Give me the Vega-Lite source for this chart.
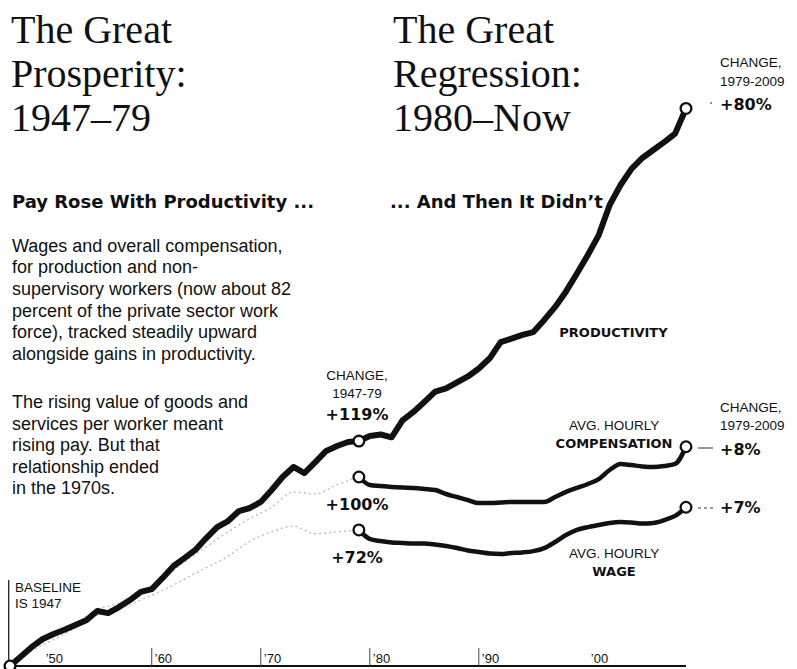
{
  "$schema": "https://vega.github.io/schema/vega-lite/v6.json",
  "width": 797,
  "height": 669,
  "padding": 0,
  "autosize": {"type": "none"},
  "background": "white",
  "config": {"view": {"stroke": null}},
  "datasets": {
    "lines": [
      {"year":1947,"value":0,"series":"Productivity","era":"all"},
      {"year":1948,"value":5.0,"series":"Productivity","era":"all"},
      {"year":1949,"value":10.1,"series":"Productivity","era":"all"},
      {"year":1950,"value":14.3,"series":"Productivity","era":"all"},
      {"year":1951,"value":16.9,"series":"Productivity","era":"all"},
      {"year":1952,"value":19.2,"series":"Productivity","era":"all"},
      {"year":1953,"value":21.7,"series":"Productivity","era":"all"},
      {"year":1954,"value":24.2,"series":"Productivity","era":"all"},
      {"year":1955,"value":29.1,"series":"Productivity","era":"all"},
      {"year":1956,"value":28.0,"series":"Productivity","era":"all"},
      {"year":1957,"value":31.2,"series":"Productivity","era":"all"},
      {"year":1958,"value":34.9,"series":"Productivity","era":"all"},
      {"year":1959,"value":39.2,"series":"Productivity","era":"all"},
      {"year":1960,"value":40.7,"series":"Productivity","era":"all"},
      {"year":1961,"value":46.6,"series":"Productivity","era":"all"},
      {"year":1962,"value":52.9,"series":"Productivity","era":"all"},
      {"year":1963,"value":57.1,"series":"Productivity","era":"all"},
      {"year":1964,"value":61.4,"series":"Productivity","era":"all"},
      {"year":1965,"value":67.7,"series":"Productivity","era":"all"},
      {"year":1966,"value":73.5,"series":"Productivity","era":"all"},
      {"year":1967,"value":76.7,"series":"Productivity","era":"all"},
      {"year":1968,"value":82.0,"series":"Productivity","era":"all"},
      {"year":1969,"value":83.6,"series":"Productivity","era":"all"},
      {"year":1970,"value":86.8,"series":"Productivity","era":"all"},
      {"year":1971,"value":93.1,"series":"Productivity","era":"all"},
      {"year":1972,"value":100.0,"series":"Productivity","era":"all"},
      {"year":1973,"value":105.3,"series":"Productivity","era":"all"},
      {"year":1974,"value":102.1,"series":"Productivity","era":"all"},
      {"year":1975,"value":107.9,"series":"Productivity","era":"all"},
      {"year":1976,"value":113.8,"series":"Productivity","era":"all"},
      {"year":1977,"value":116.4,"series":"Productivity","era":"all"},
      {"year":1978,"value":118.5,"series":"Productivity","era":"all"},
      {"year":1979,"value":119,"series":"Productivity","era":"all"},
      {"year":1980,"value":121.7,"series":"Productivity","era":"all"},
      {"year":1981,"value":122.5,"series":"Productivity","era":"all"},
      {"year":1982,"value":121.0,"series":"Productivity","era":"all"},
      {"year":1983,"value":129.9,"series":"Productivity","era":"all"},
      {"year":1984,"value":134.4,"series":"Productivity","era":"all"},
      {"year":1985,"value":139.7,"series":"Productivity","era":"all"},
      {"year":1986,"value":145.2,"series":"Productivity","era":"all"},
      {"year":1987,"value":146.9,"series":"Productivity","era":"all"},
      {"year":1988,"value":150.1,"series":"Productivity","era":"all"},
      {"year":1989,"value":153.2,"series":"Productivity","era":"all"},
      {"year":1990,"value":157.4,"series":"Productivity","era":"all"},
      {"year":1991,"value":162.8,"series":"Productivity","era":"all"},
      {"year":1992,"value":171.4,"series":"Productivity","era":"all"},
      {"year":1993,"value":173.2,"series":"Productivity","era":"all"},
      {"year":1994,"value":175.2,"series":"Productivity","era":"all"},
      {"year":1995,"value":176.7,"series":"Productivity","era":"all"},
      {"year":1996,"value":183.1,"series":"Productivity","era":"all"},
      {"year":1997,"value":190.0,"series":"Productivity","era":"all"},
      {"year":1998,"value":198.2,"series":"Productivity","era":"all"},
      {"year":1999,"value":207.7,"series":"Productivity","era":"all"},
      {"year":2000,"value":217.5,"series":"Productivity","era":"all"},
      {"year":2001,"value":228.0,"series":"Productivity","era":"all"},
      {"year":2002,"value":243.9,"series":"Productivity","era":"all"},
      {"year":2003,"value":254.5,"series":"Productivity","era":"all"},
      {"year":2004,"value":263.0,"series":"Productivity","era":"all"},
      {"year":2005,"value":268.8,"series":"Productivity","era":"all"},
      {"year":2006,"value":273.0,"series":"Productivity","era":"all"},
      {"year":2007,"value":277.2,"series":"Productivity","era":"all"},
      {"year":2008,"value":281.7,"series":"Productivity","era":"all"},
      {"year":2009,"value":295,"series":"Productivity","era":"all"},

      {"year":1947,"value":0,"series":"Compensation","era":"pre"},
      {"year":1949,"value":9,"series":"Compensation","era":"pre"},
      {"year":1951,"value":16,"series":"Compensation","era":"pre"},
      {"year":1953,"value":22,"series":"Compensation","era":"pre"},
      {"year":1955,"value":30,"series":"Compensation","era":"pre"},
      {"year":1957,"value":33,"series":"Compensation","era":"pre"},
      {"year":1959,"value":39,"series":"Compensation","era":"pre"},
      {"year":1961,"value":46,"series":"Compensation","era":"pre"},
      {"year":1963,"value":55,"series":"Compensation","era":"pre"},
      {"year":1965,"value":63,"series":"Compensation","era":"pre"},
      {"year":1967,"value":71,"series":"Compensation","era":"pre"},
      {"year":1969,"value":78,"series":"Compensation","era":"pre"},
      {"year":1971,"value":84,"series":"Compensation","era":"pre"},
      {"year":1973,"value":92,"series":"Compensation","era":"pre"},
      {"year":1975,"value":91,"series":"Compensation","era":"pre"},
      {"year":1977,"value":96,"series":"Compensation","era":"pre"},
      {"year":1979,"value":100,"series":"Compensation","era":"pre"},

      {"year":1947,"value":0,"series":"Wage","era":"pre"},
      {"year":1949,"value":8,"series":"Wage","era":"pre"},
      {"year":1951,"value":14,"series":"Wage","era":"pre"},
      {"year":1953,"value":20,"series":"Wage","era":"pre"},
      {"year":1955,"value":27,"series":"Wage","era":"pre"},
      {"year":1957,"value":30,"series":"Wage","era":"pre"},
      {"year":1959,"value":35,"series":"Wage","era":"pre"},
      {"year":1961,"value":40,"series":"Wage","era":"pre"},
      {"year":1963,"value":46,"series":"Wage","era":"pre"},
      {"year":1965,"value":52,"series":"Wage","era":"pre"},
      {"year":1967,"value":58,"series":"Wage","era":"pre"},
      {"year":1969,"value":66,"series":"Wage","era":"pre"},
      {"year":1971,"value":71,"series":"Wage","era":"pre"},
      {"year":1973,"value":74,"series":"Wage","era":"pre"},
      {"year":1975,"value":70,"series":"Wage","era":"pre"},
      {"year":1977,"value":71,"series":"Wage","era":"pre"},
      {"year":1979,"value":72,"series":"Wage","era":"pre"},

      {"year":1979,"value":100,"series":"Compensation","era":"post"},
      {"year":1980,"value":95.8,"series":"Compensation","era":"post"},
      {"year":1981,"value":95.2,"series":"Compensation","era":"post"},
      {"year":1982,"value":94.7,"series":"Compensation","era":"post"},
      {"year":1983,"value":94.4,"series":"Compensation","era":"post"},
      {"year":1984,"value":94.2,"series":"Compensation","era":"post"},
      {"year":1985,"value":93.7,"series":"Compensation","era":"post"},
      {"year":1986,"value":93.1,"series":"Compensation","era":"post"},
      {"year":1987,"value":91.0,"series":"Compensation","era":"post"},
      {"year":1988,"value":89.4,"series":"Compensation","era":"post"},
      {"year":1989,"value":87.8,"series":"Compensation","era":"post"},
      {"year":1990,"value":86.2,"series":"Compensation","era":"post"},
      {"year":1991,"value":86.2,"series":"Compensation","era":"post"},
      {"year":1992,"value":86.5,"series":"Compensation","era":"post"},
      {"year":1993,"value":86.8,"series":"Compensation","era":"post"},
      {"year":1994,"value":86.8,"series":"Compensation","era":"post"},
      {"year":1995,"value":86.8,"series":"Compensation","era":"post"},
      {"year":1996,"value":86.8,"series":"Compensation","era":"post"},
      {"year":1997,"value":89.4,"series":"Compensation","era":"post"},
      {"year":1998,"value":92.1,"series":"Compensation","era":"post"},
      {"year":1999,"value":94.2,"series":"Compensation","era":"post"},
      {"year":2000,"value":96.3,"series":"Compensation","era":"post"},
      {"year":2001,"value":98.9,"series":"Compensation","era":"post"},
      {"year":2002,"value":103.7,"series":"Compensation","era":"post"},
      {"year":2003,"value":106.9,"series":"Compensation","era":"post"},
      {"year":2004,"value":106.3,"series":"Compensation","era":"post"},
      {"year":2005,"value":105.6,"series":"Compensation","era":"post"},
      {"year":2006,"value":105.3,"series":"Compensation","era":"post"},
      {"year":2007,"value":105.8,"series":"Compensation","era":"post"},
      {"year":2008,"value":106.9,"series":"Compensation","era":"post"},
      {"year":2009,"value":116,"series":"Compensation","era":"post"},

      {"year":1979,"value":72,"series":"Wage","era":"post"},
      {"year":1980,"value":67.2,"series":"Wage","era":"post"},
      {"year":1981,"value":66.1,"series":"Wage","era":"post"},
      {"year":1982,"value":65.3,"series":"Wage","era":"post"},
      {"year":1983,"value":65.1,"series":"Wage","era":"post"},
      {"year":1984,"value":64.8,"series":"Wage","era":"post"},
      {"year":1985,"value":64.8,"series":"Wage","era":"post"},
      {"year":1986,"value":64.3,"series":"Wage","era":"post"},
      {"year":1987,"value":63.5,"series":"Wage","era":"post"},
      {"year":1988,"value":62.4,"series":"Wage","era":"post"},
      {"year":1989,"value":61.1,"series":"Wage","era":"post"},
      {"year":1990,"value":60.3,"series":"Wage","era":"post"},
      {"year":1991,"value":59.5,"series":"Wage","era":"post"},
      {"year":1992,"value":59.3,"series":"Wage","era":"post"},
      {"year":1993,"value":59.8,"series":"Wage","era":"post"},
      {"year":1994,"value":60.1,"series":"Wage","era":"post"},
      {"year":1995,"value":60.8,"series":"Wage","era":"post"},
      {"year":1996,"value":62.4,"series":"Wage","era":"post"},
      {"year":1997,"value":65.6,"series":"Wage","era":"post"},
      {"year":1998,"value":69.3,"series":"Wage","era":"post"},
      {"year":1999,"value":72.0,"series":"Wage","era":"post"},
      {"year":2000,"value":73.5,"series":"Wage","era":"post"},
      {"year":2001,"value":74.6,"series":"Wage","era":"post"},
      {"year":2002,"value":75.7,"series":"Wage","era":"post"},
      {"year":2003,"value":76.2,"series":"Wage","era":"post"},
      {"year":2004,"value":75.9,"series":"Wage","era":"post"},
      {"year":2005,"value":75.4,"series":"Wage","era":"post"},
      {"year":2006,"value":75.7,"series":"Wage","era":"post"},
      {"year":2007,"value":77.2,"series":"Wage","era":"post"},
      {"year":2008,"value":79.4,"series":"Wage","era":"post"},
      {"year":2009,"value":84,"series":"Wage","era":"post"}
    ],
    "circles": [
      {"year":1947,"value":0},
      {"year":1979,"value":119},
      {"year":1979,"value":100},
      {"year":1979,"value":72},
      {"year":2009,"value":295},
      {"year":2009,"value":116},
      {"year":2009,"value":84}
    ],
    "headline": [
      {"year":1947.09,"value":329.6,"text":"The Great"},
      {"year":1947.09,"value":306.3,"text":"Prosperity:"},
      {"year":1947.09,"value":283.1,"text":"1947–79"},
      {"year":1982.13,"value":329.6,"text":"The Great"},
      {"year":1982.13,"value":306.3,"text":"Regression:"},
      {"year":1982.13,"value":283.1,"text":"1980–Now"}
    ],
    "subhead": [
      {"year":1947.18,"value":242.3,"text":"Pay Rose With Productivity ..."},
      {"year":1981.85,"value":242.3,"text":"... And Then It Didn’t"}
    ],
    "body": [
      {"year":1947.18,"value":219.05,"text":"Wages and overall compensation,"},
      {"year":1947.18,"value":207.94,"text":"for production and non-"},
      {"year":1947.18,"value":196.30,"text":"supervisory workers (now about 82"},
      {"year":1947.18,"value":184.66,"text":"percent of the private sector work"},
      {"year":1947.18,"value":173.54,"text":"force), tracked steadily upward"},
      {"year":1947.18,"value":161.90,"text":"alongside gains in productivity."},
      {"year":1947.18,"value":136.51,"text":"The rising value of goods and"},
      {"year":1947.18,"value":124.87,"text":"services per worker meant"},
      {"year":1947.18,"value":113.76,"text":"rising pay. But that"},
      {"year":1947.18,"value":102.12,"text":"relationship ended"},
      {"year":1947.18,"value":91.01,"text":"in the 1970s."}
    ],
    "noteLeft": [
      {"year":2012.12,"value":316.93,"text":"CHANGE,"},
      {"year":2012.12,"value":306.88,"text":"1979-2009"},
      {"year":2012.12,"value":134.39,"text":"CHANGE,"},
      {"year":2012.12,"value":124.87,"text":"1979-2009"},
      {"year":1947.46,"value":39.15,"text":"BASELINE"},
      {"year":1947.46,"value":30.69,"text":"IS 1947"}
    ],
    "noteCenter": [
      {"year":1978.83,"value":151.32,"text":"CHANGE,"},
      {"year":1978.83,"value":141.80,"text":"1947-79"},
      {"year":2002.40,"value":124.87,"text":"AVG. HOURLY"},
      {"year":2002.40,"value":57.14,"text":"AVG. HOURLY"}
    ],
    "boldCenter": [
      {"year":2002.35,"value":174.07,"text":"PRODUCTIVITY"},
      {"year":2002.40,"value":115.34,"text":"COMPENSATION"},
      {"year":2002.40,"value":47.62,"text":"WAGE"}
    ],
    "pctCenter": [
      {"year":1978.83,"value":130.16,"text":"+119%"},
      {"year":1978.83,"value":82.54,"text":"+100%"},
      {"year":1978.83,"value":54.50,"text":"+72%"}
    ],
    "pctLeft": [
      {"year":2012.12,"value":294.18,"text":"+80%"},
      {"year":2012.12,"value":111.64,"text":"+8%"},
      {"year":2012.12,"value":80.95,"text":"+7%"}
    ],
    "ticks": [
      {"year":1960,"value":0,"value2":9.5},
      {"year":1970,"value":0,"value2":9.5},
      {"year":1980,"value":0,"value2":9.5},
      {"year":1990,"value":0,"value2":9.5}
    ],
    "tickLabels": [
      {"year":1950,"value":1.6,"text":"’50"},
      {"year":1960,"value":1.6,"text":"’60"},
      {"year":1970,"value":1.6,"text":"’70"},
      {"year":1980,"value":1.6,"text":"’80"},
      {"year":1990,"value":1.6,"text":"’90"},
      {"year":2000,"value":1.6,"text":"’00"}
    ],
    "leaders": [
      {"year":2010.10,"year2":2011.48,"value":115.34,"kind":"solid"},
      {"year":2010.10,"year2":2011.48,"value":83.6,"kind":"dashed"}
    ]
  },
  "encoding": {
    "x": {"field": "year", "type": "quantitative", "scale": {"domain": [1946.083, 2019.182], "nice": false, "zero": false}, "axis": null},
    "y": {"field": "value", "type": "quantitative", "scale": {"domain": [-1.587, 352.381], "nice": false, "zero": false}, "axis": null}
  },
  "layer": [
    {
      "data": {"values": [{"year": 1947, "year2": 2009, "value": 0}]},
      "mark": {"type": "rule", "color": "#111", "strokeWidth": 2},
      "encoding": {"x2": {"field": "year2"}}
    },
    {
      "data": {"values": [{"year": 1946.88, "value": 0, "value2": 45.5}]},
      "mark": {"type": "rule", "color": "#222", "strokeWidth": 1.3},
      "encoding": {"y2": {"field": "value2"}}
    },
    {
      "data": {"name": "ticks"},
      "mark": {"type": "rule", "color": "#444", "strokeWidth": 1},
      "encoding": {"y2": {"field": "value2"}}
    },
    {
      "data": {"name": "tickLabels"},
      "mark": {"type": "text", "align": "left", "baseline": "alphabetic", "dx": 3, "font": "Liberation Sans", "fontSize": 13, "color": "#111"},
      "encoding": {"text": {"field": "text"}}
    },
    {
      "data": {"name": "lines"},
      "transform": [{"filter": "datum.era === 'pre'"}],
      "mark": {"type": "line", "color": "#bdbdbd", "strokeWidth": 1.4, "strokeDash": [2, 3], "interpolate": "monotone"},
      "encoding": {"detail": {"field": "series"}, "order": {"field": "year"}}
    },
    {
      "data": {"name": "lines"},
      "transform": [{"filter": "datum.era === 'all'"}],
      "mark": {"type": "line", "color": "#111", "strokeWidth": 6, "strokeJoin": "round", "strokeCap": "round"},
      "encoding": {"order": {"field": "year"}}
    },
    {
      "data": {"name": "lines"},
      "transform": [{"filter": "datum.era === 'post'"}],
      "mark": {"type": "line", "color": "#111", "strokeWidth": 4.5, "strokeJoin": "round", "strokeCap": "round", "interpolate": "monotone"},
      "encoding": {"detail": {"field": "series"}, "order": {"field": "year"}}
    },
    {
      "data": {"name": "leaders"},
      "transform": [{"filter": "datum.kind === 'solid'"}],
      "mark": {"type": "rule", "color": "#333", "strokeWidth": 1},
      "encoding": {"x2": {"field": "year2"}}
    },
    {
      "data": {"name": "leaders"},
      "transform": [{"filter": "datum.kind === 'dashed'"}],
      "mark": {"type": "rule", "color": "#333", "strokeWidth": 1, "strokeDash": [3, 3]},
      "encoding": {"x2": {"field": "year2"}}
    },
    {
      "data": {"values": [{"year": 2011.3, "value": 297.9}]},
      "mark": {"type": "point", "filled": true, "color": "#333", "size": 4},
      "encoding": {}
    },
    {
      "data": {"name": "circles"},
      "mark": {"type": "point", "shape": "circle", "filled": true, "fill": "white", "stroke": "#111", "strokeWidth": 2.3, "size": 115, "opacity": 1},
      "encoding": {}
    },
    {
      "data": {"name": "headline"},
      "mark": {"type": "text", "align": "left", "baseline": "alphabetic", "font": "Liberation Serif", "fontSize": 40, "color": "#111"},
      "encoding": {"text": {"field": "text"}}
    },
    {
      "data": {"name": "subhead"},
      "mark": {"type": "text", "align": "left", "baseline": "alphabetic", "font": "DejaVu Sans", "fontWeight": "bold", "fontSize": 18, "color": "#111"},
      "encoding": {"text": {"field": "text"}}
    },
    {
      "data": {"name": "body"},
      "mark": {"type": "text", "align": "left", "baseline": "alphabetic", "font": "Liberation Sans", "fontSize": 18, "color": "#111"},
      "encoding": {"text": {"field": "text"}}
    },
    {
      "data": {"name": "noteLeft"},
      "mark": {"type": "text", "align": "left", "baseline": "alphabetic", "font": "Liberation Sans", "fontSize": 13.5, "color": "#111"},
      "encoding": {"text": {"field": "text"}}
    },
    {
      "data": {"name": "noteCenter"},
      "mark": {"type": "text", "align": "center", "baseline": "alphabetic", "font": "Liberation Sans", "fontSize": 13.5, "color": "#111"},
      "encoding": {"text": {"field": "text"}}
    },
    {
      "data": {"name": "boldCenter"},
      "mark": {"type": "text", "align": "center", "baseline": "alphabetic", "font": "DejaVu Sans", "fontWeight": "bold", "fontSize": 13, "color": "#111"},
      "encoding": {"text": {"field": "text"}}
    },
    {
      "data": {"name": "pctCenter"},
      "mark": {"type": "text", "align": "center", "baseline": "alphabetic", "font": "DejaVu Sans", "fontWeight": "bold", "fontSize": 16, "color": "#111"},
      "encoding": {"text": {"field": "text"}}
    },
    {
      "data": {"name": "pctLeft"},
      "mark": {"type": "text", "align": "left", "baseline": "alphabetic", "font": "DejaVu Sans", "fontWeight": "bold", "fontSize": 16, "color": "#111"},
      "encoding": {"text": {"field": "text"}}
    }
  ]
}
